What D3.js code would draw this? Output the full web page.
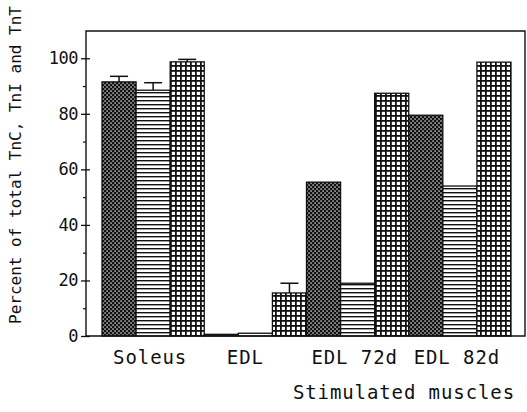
<!DOCTYPE html>
<html>
<head>
<meta charset="utf-8">
<script src="https://cdn.jsdelivr.net/npm/d3@7/dist/d3.min.js"></script>
<style>
  body { margin: 0; background: #fff; }
  text { font-family: "DejaVu Sans Mono", monospace; fill: #111; }
</style>
</head>
<body>
<div id="chart"></div>
<script>
// data
var groups = ["Soleus", "EDL", "EDL 72d", "EDL 82d"];
var series = ["TnC", "TnI", "TnT"];
var tncValues = [91.5, 0.6, 55.4, 79.5];
var tniValues = [88.5, 1.0, 19.0, 54.0];
var tntValues = [98.7, 15.5, 87.4, 98.6];
var tncErr = [2.0, 0, 0, 0];
var tniErr = [2.7, 0, 0, 0];
var tntErr = [0.9, 3.5, 0, 0];
var yMajor = [0, 20, 40, 60, 80, 100];
var yMinor = [10, 30, 50, 70, 90];

// plot box (note: "top" is reserved on window, so use prefixed names)
var width = 527, height = 412;
var boxLeft = 86, boxRight = 525, boxTop = 31, boxBottom = 336;

var svg = d3.select("#chart").append("svg")
    .attr("width", width)
    .attr("height", height);

// fill patterns
var defs = svg.append("defs");

var pDots = defs.append("pattern")
    .attr("id", "dots")
    .attr("patternUnits", "userSpaceOnUse")
    .attr("width", 4).attr("height", 4);
pDots.append("rect").attr("width", 4).attr("height", 4).attr("fill", "#111");
pDots.append("rect").attr("x", 0.4).attr("y", 0.4).attr("width", 1.3).attr("height", 1.3).attr("fill", "#fff");
pDots.append("rect").attr("x", 2.4).attr("y", 2.4).attr("width", 1.3).attr("height", 1.3).attr("fill", "#fff");

var pLines = defs.append("pattern")
    .attr("id", "hlines")
    .attr("patternUnits", "userSpaceOnUse")
    .attr("width", 4).attr("height", 4);
pLines.append("rect").attr("width", 4).attr("height", 4).attr("fill", "#fff");
pLines.append("rect").attr("y", 0).attr("width", 4).attr("height", 1.4).attr("fill", "#111");

var pGrid = defs.append("pattern")
    .attr("id", "grid")
    .attr("patternUnits", "userSpaceOnUse")
    .attr("width", 5).attr("height", 5);
pGrid.append("rect").attr("width", 5).attr("height", 5).attr("fill", "#111");
pGrid.append("rect").attr("x", 1.8).attr("y", 1.8).attr("width", 3.2).attr("height", 3.2).attr("fill", "#fff");

var fills = {TnC: "url(#dots)", TnI: "url(#hlines)", TnT: "url(#grid)"};

// scales
var x = d3.scaleBand()
    .domain(groups)
    .range([102, 511])
    .padding(0);
var xs = d3.scaleBand()
    .domain(series)
    .range([0, x.bandwidth()])
    .padding(0);
var y = d3.scaleLinear()
    .domain([0, 110])
    .range([boxBottom, boxTop - 0.5]);

var data = [];
groups.forEach(function(g, i) {
  data.push({group: g, s: "TnC", v: tncValues[i], e: tncErr[i]});
  data.push({group: g, s: "TnI", v: tniValues[i], e: tniErr[i]});
  data.push({group: g, s: "TnT", v: tntValues[i], e: tntErr[i]});
});

// bars
svg.selectAll(".bar")
    .data(data)
  .enter().append("rect")
    .attr("class", "bar")
    .attr("x", function(d) { return x(d.group) + xs(d.s); })
    .attr("width", xs.bandwidth())
    .attr("y", function(d) { return y(d.v); })
    .attr("height", function(d) { return boxBottom - y(d.v); })
    .attr("fill", function(d) { return fills[d.s]; })
    .attr("stroke", "#111")
    .attr("stroke-width", 1.3);

// error bars
var errs = svg.selectAll(".err")
    .data(data.filter(function(d) { return d.e > 0; }))
  .enter().append("g")
    .attr("class", "err");
errs.append("line")
    .attr("x1", function(d) { return x(d.group) + xs(d.s) + xs.bandwidth() / 2; })
    .attr("x2", function(d) { return x(d.group) + xs(d.s) + xs.bandwidth() / 2; })
    .attr("y1", function(d) { return y(d.v); })
    .attr("y2", function(d) { return y(d.v + d.e); })
    .attr("stroke", "#111").attr("stroke-width", 1.5);
errs.append("line")
    .attr("x1", function(d) { return x(d.group) + xs(d.s) + xs.bandwidth() / 2 - 9; })
    .attr("x2", function(d) { return x(d.group) + xs(d.s) + xs.bandwidth() / 2 + 9; })
    .attr("y1", function(d) { return y(d.v + d.e); })
    .attr("y2", function(d) { return y(d.v + d.e); })
    .attr("stroke", "#111").attr("stroke-width", 1.5);

// frame
svg.append("path")
    .attr("d", "M" + boxLeft + "," + boxTop + "H" + boxRight + "V" + boxBottom + "H" + boxLeft + "Z")
    .attr("fill", "none")
    .attr("stroke", "#111")
    .attr("stroke-width", 1.4);

// y axis, ticks crossing the line
var yl = svg.append("g")
    .attr("class", "y axis")
    .attr("transform", "translate(" + boxLeft + ",0)")
    .call(d3.axisLeft(y).tickValues(yMajor).tickSize(5).tickPadding(3));
yl.select(".domain").remove();
yl.selectAll("text").style("font-size", "17px").style("letter-spacing", "-0.5px");
yl.selectAll("line").attr("stroke", "#111").attr("stroke-width", 1.3);

var yr = svg.append("g")
    .attr("transform", "translate(" + boxLeft + ",0)")
    .call(d3.axisRight(y).tickValues(yMajor).tickSize(4).tickFormat(""));
yr.select(".domain").remove();
yr.selectAll("line").attr("stroke", "#111").attr("stroke-width", 1.3);

var ym = svg.append("g")
    .attr("transform", "translate(" + boxLeft + ",0)")
    .call(d3.axisLeft(y).tickValues(yMinor).tickSize(3).tickFormat(""));
ym.select(".domain").remove();
ym.selectAll("line").attr("stroke", "#111").attr("stroke-width", 1.2);

// x axis labels
var xa = svg.append("g")
    .attr("class", "x axis")
    .attr("transform", "translate(0," + boxBottom + ")")
    .call(d3.axisBottom(x).tickSize(0));
xa.select(".domain").remove();
xa.selectAll("text")
    .attr("y", 28)
    .attr("dy", null)
    .attr("dx", function(d) { return d == "EDL" ? -10 : -3; })
    .style("font-size", "19px")
    .style("letter-spacing", "0.9px");

// axis titles
svg.append("text")
    .attr("x", 515)
    .attr("y", 399)
    .attr("text-anchor", "end")
    .style("font-size", "19px")
    .style("letter-spacing", "0.9px")
    .text("Stimulated muscles");

svg.append("text")
    .attr("transform", "translate(21,165) rotate(-90)")
    .attr("text-anchor", "middle")
    .style("font-size", "16px")
    .text("Percent of total TnC, TnI and TnT");
</script>
</body>
</html>
